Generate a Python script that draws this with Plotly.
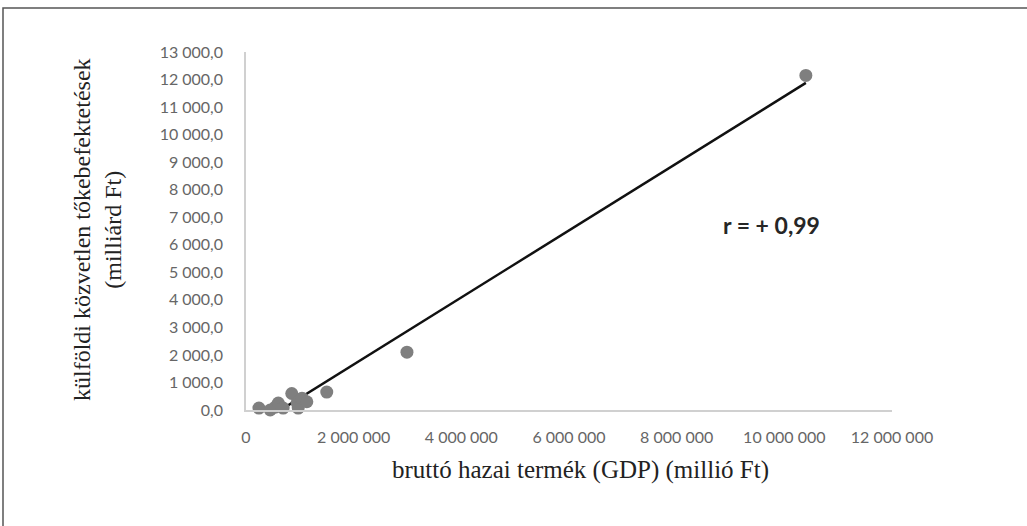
import numpy as np
import plotly.graph_objects as go

# Data (GDP in million Ft, FDI in billion Ft)
gdp = [240000, 450000, 540000, 600000, 690000, 850000, 950000, 970000,
       1040000, 1130000, 1500000, 2990000, 10400000]
fdi = [70.0, 0.0, 100.0, 250.0, 70.0, 600.0, 250.0, 70.0,
       430.0, 300.0, 650.0, 2100.0, 12150.0]
x_ticks = [0, 2000000, 4000000, 6000000, 8000000, 10000000, 12000000]
y_ticks = list(range(0, 13001, 1000))
r_label = "r = + 0,99"

W, H = 1027, 526
L, R, T, B = 246, 892, 52, 410

slope, intercept = np.polyfit(gdp, fdi, 1)
xs = np.array([min(gdp), max(gdp)])
ys = slope * xs + intercept

fig = go.Figure()
fig.add_trace(go.Scatter(x=xs, y=ys, mode="lines",
                         line=dict(color="#111111", width=2.5),
                         hoverinfo="skip", showlegend=False))
fig.add_trace(go.Scatter(x=gdp, y=fdi, mode="markers",
                         marker=dict(color="#7f7f7f", size=13),
                         cliponaxis=False, showlegend=False))

def px_x(p):
    return (p - L) / (R - L)

def px_y(p):
    return (B - p) / (B - T)

fig.update_layout(
    width=W, height=H,
    margin=dict(l=L, r=W - R, t=T, b=H - B, pad=0),
    paper_bgcolor="white", plot_bgcolor="white",
    separators=", ",
    xaxis=dict(range=[0, 12000000], tickvals=x_ticks, tickformat=",d",
               showgrid=False, zeroline=False, showline=True,
               linecolor="#d0d0d0", linewidth=1.5,
               tickfont=dict(family="Lato", size=16, color="#666666"),
               ticks="", ticklabelstandoff=12),
    yaxis=dict(range=[0, 13000], tickvals=y_ticks, tickformat=",.1f",
               showgrid=False, zeroline=False, showline=True,
               linecolor="#d0d0d0", linewidth=1.5,
               tickfont=dict(family="Lato", size=16, color="#666666"),
               ticks="", ticklabelstandoff=18),
    annotations=[
        dict(text=r_label, xref="paper", yref="paper",
             x=px_x(771), y=px_y(225), showarrow=False,
             xanchor="center", yanchor="middle",
             font=dict(family="Lato", size=23, color="#262626", weight="bold")),
        dict(text="bruttó hazai termék (GDP) (millió Ft)", xref="paper", yref="paper",
             x=px_x(580), y=px_y(470), showarrow=False,
             xanchor="center", yanchor="middle",
             font=dict(family="Liberation Serif", size=25, color="#222222")),
        dict(text="külföldi közvetlen tőkebefektetések<br>(milliárd Ft)",
             xref="paper", yref="paper", textangle=-90,
             x=px_x(97), y=px_y(230), showarrow=False,
             xanchor="center", yanchor="middle",
             font=dict(family="Liberation Serif", size=24, color="#222222")),
    ],
    shapes=[dict(type="rect", xref="paper", yref="paper",
                 x0=px_x(3), x1=px_x(1040), y0=px_y(540), y1=px_y(8),
                 line=dict(color="#555555", width=1.5), layer="below")],
)

fig.write_html("out.html", config={"displayModeBar": False},
               post_script="document.body.style.margin='0';document.body.style.overflow='hidden';")
